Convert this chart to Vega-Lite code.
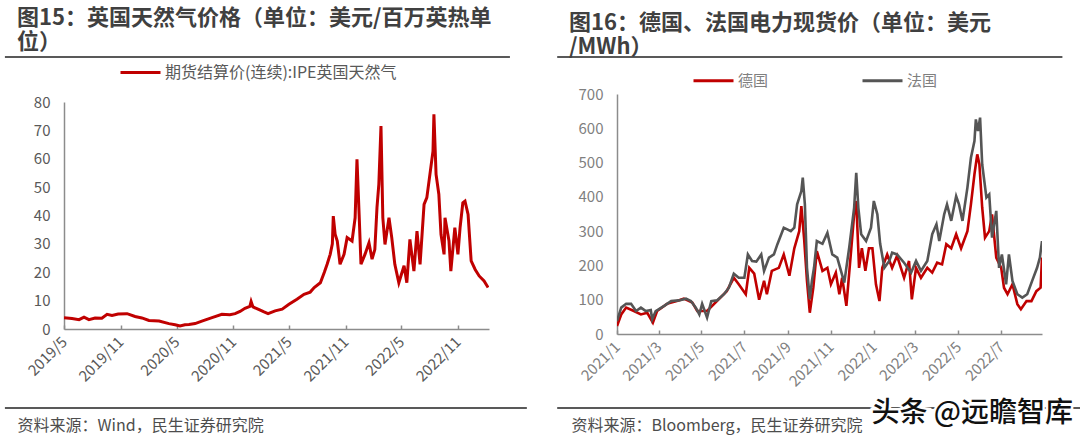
{
  "$schema": "https://vega.github.io/schema/vega-lite/v6.json",
  "background": "white",
  "padding": {"left": 3, "top": 7, "right": 0, "bottom": 2},
  "spacing": 28,
  "resolve": {"scale": {"color": "independent"}, "legend": {"color": "independent"}},
  "datasets": {
    "gas": [
      {"d": "2019-05-01", "v": 4.0}, {"d": "2019-05-27", "v": 3.7}, {"d": "2019-06-19", "v": 3.3}, {"d": "2019-07-05", "v": 4.2},
      {"d": "2019-07-21", "v": 3.3}, {"d": "2019-08-10", "v": 3.9}, {"d": "2019-09-01", "v": 3.8}, {"d": "2019-09-18", "v": 5.2},
      {"d": "2019-10-04", "v": 4.8}, {"d": "2019-10-24", "v": 5.3}, {"d": "2019-11-22", "v": 5.4}, {"d": "2019-12-18", "v": 4.4},
      {"d": "2020-01-09", "v": 3.9}, {"d": "2020-02-01", "v": 3.0}, {"d": "2020-03-05", "v": 2.8}, {"d": "2020-04-06", "v": 1.9},
      {"d": "2020-04-26", "v": 1.5}, {"d": "2020-05-12", "v": 1.1}, {"d": "2020-05-28", "v": 1.5}, {"d": "2020-06-10", "v": 1.6},
      {"d": "2020-06-30", "v": 1.9}, {"d": "2020-07-22", "v": 2.8}, {"d": "2020-08-24", "v": 4.0}, {"d": "2020-09-25", "v": 5.2},
      {"d": "2020-10-21", "v": 5.0}, {"d": "2020-11-07", "v": 5.4}, {"d": "2020-11-23", "v": 6.2}, {"d": "2020-12-09", "v": 7.3},
      {"d": "2020-12-25", "v": 8.0}, {"d": "2020-12-29", "v": 9.7}, {"d": "2021-01-04", "v": 7.8}, {"d": "2021-01-24", "v": 6.8},
      {"d": "2021-02-09", "v": 6.0}, {"d": "2021-02-22", "v": 5.4}, {"d": "2021-03-17", "v": 6.4}, {"d": "2021-04-09", "v": 7.0},
      {"d": "2021-05-01", "v": 8.7}, {"d": "2021-05-27", "v": 10.5}, {"d": "2021-06-19", "v": 12.2}, {"d": "2021-07-09", "v": 13.0},
      {"d": "2021-07-22", "v": 14.6}, {"d": "2021-08-11", "v": 16.3}, {"d": "2021-08-24", "v": 20.0}, {"d": "2021-09-02", "v": 22.8},
      {"d": "2021-09-12", "v": 26.3}, {"d": "2021-09-19", "v": 30.0}, {"d": "2021-09-22", "v": 39.8}, {"d": "2021-09-28", "v": 33.4},
      {"d": "2021-10-05", "v": 31.0}, {"d": "2021-10-14", "v": 22.8}, {"d": "2021-10-27", "v": 26.3}, {"d": "2021-11-06", "v": 32.2},
      {"d": "2021-11-22", "v": 31.0}, {"d": "2021-12-02", "v": 39.2}, {"d": "2021-12-08", "v": 59.8}, {"d": "2021-12-15", "v": 40.4},
      {"d": "2021-12-21", "v": 22.8}, {"d": "2022-01-03", "v": 26.3}, {"d": "2022-01-16", "v": 30.4}, {"d": "2022-01-26", "v": 24.6},
      {"d": "2022-02-04", "v": 28.0}, {"d": "2022-02-11", "v": 42.8}, {"d": "2022-02-17", "v": 51.0}, {"d": "2022-02-24", "v": 71.5},
      {"d": "2022-03-02", "v": 39.2}, {"d": "2022-03-09", "v": 29.8}, {"d": "2022-03-22", "v": 39.2}, {"d": "2022-03-31", "v": 32.2},
      {"d": "2022-04-10", "v": 22.8}, {"d": "2022-04-23", "v": 16.3}, {"d": "2022-05-10", "v": 22.3}, {"d": "2022-05-19", "v": 16.3},
      {"d": "2022-05-29", "v": 31.6}, {"d": "2022-06-11", "v": 20.4}, {"d": "2022-06-21", "v": 34.5}, {"d": "2022-07-01", "v": 22.8},
      {"d": "2022-07-14", "v": 43.9}, {"d": "2022-07-23", "v": 46.3}, {"d": "2022-08-02", "v": 54.5}, {"d": "2022-08-12", "v": 62.7},
      {"d": "2022-08-15", "v": 75.7}, {"d": "2022-08-22", "v": 54.5}, {"d": "2022-08-31", "v": 47.5}, {"d": "2022-09-07", "v": 33.4},
      {"d": "2022-09-17", "v": 26.3}, {"d": "2022-09-20", "v": 39.2}, {"d": "2022-10-03", "v": 31.0}, {"d": "2022-10-09", "v": 20.4},
      {"d": "2022-10-22", "v": 35.7}, {"d": "2022-11-01", "v": 26.3}, {"d": "2022-11-08", "v": 35.7}, {"d": "2022-11-17", "v": 44.5},
      {"d": "2022-11-24", "v": 45.1}, {"d": "2022-12-04", "v": 40.4}, {"d": "2022-12-14", "v": 24.0}, {"d": "2022-12-27", "v": 21.0},
      {"d": "2023-01-09", "v": 18.7}, {"d": "2023-01-25", "v": 16.9}, {"d": "2023-02-07", "v": 14.6}
    ],
    "power": [
      {"d": "2021-01-01", "c": "德国", "v": 23}, {"d": "2021-01-07", "c": "德国", "v": 57}, {"d": "2021-01-14", "c": "德国", "v": 77},
      {"d": "2021-01-25", "c": "德国", "v": 67}, {"d": "2021-02-04", "c": "德国", "v": 57}, {"d": "2021-02-13", "c": "德国", "v": 62},
      {"d": "2021-02-21", "c": "德国", "v": 33}, {"d": "2021-02-27", "c": "德国", "v": 67}, {"d": "2021-03-13", "c": "德国", "v": 88},
      {"d": "2021-03-27", "c": "德国", "v": 96}, {"d": "2021-04-06", "c": "德国", "v": 103}, {"d": "2021-04-18", "c": "德国", "v": 92},
      {"d": "2021-04-25", "c": "德国", "v": 67}, {"d": "2021-05-09", "c": "德国", "v": 67}, {"d": "2021-05-23", "c": "德国", "v": 96},
      {"d": "2021-06-06", "c": "德国", "v": 125}, {"d": "2021-06-16", "c": "德国", "v": 164}, {"d": "2021-06-23", "c": "德国", "v": 145},
      {"d": "2021-07-03", "c": "德国", "v": 116}, {"d": "2021-07-08", "c": "德国", "v": 193}, {"d": "2021-07-15", "c": "德国", "v": 176},
      {"d": "2021-07-22", "c": "德国", "v": 100}, {"d": "2021-07-29", "c": "德国", "v": 155}, {"d": "2021-08-02", "c": "德国", "v": 116},
      {"d": "2021-08-09", "c": "德国", "v": 184}, {"d": "2021-08-19", "c": "德国", "v": 193}, {"d": "2021-08-26", "c": "德国", "v": 232},
      {"d": "2021-09-03", "c": "德国", "v": 170}, {"d": "2021-09-10", "c": "德国", "v": 250}, {"d": "2021-09-17", "c": "德国", "v": 300},
      {"d": "2021-09-20", "c": "德国", "v": 373}, {"d": "2021-09-24", "c": "德国", "v": 276}, {"d": "2021-09-28", "c": "德国", "v": 155},
      {"d": "2021-10-02", "c": "德国", "v": 62}, {"d": "2021-10-07", "c": "德国", "v": 135}, {"d": "2021-10-12", "c": "德国", "v": 242},
      {"d": "2021-10-20", "c": "德国", "v": 184}, {"d": "2021-10-27", "c": "德国", "v": 193}, {"d": "2021-11-01", "c": "德国", "v": 145},
      {"d": "2021-11-08", "c": "德国", "v": 179}, {"d": "2021-11-13", "c": "德国", "v": 116}, {"d": "2021-11-17", "c": "德国", "v": 164},
      {"d": "2021-11-23", "c": "德国", "v": 82}, {"d": "2021-11-30", "c": "德国", "v": 250}, {"d": "2021-12-04", "c": "德国", "v": 349},
      {"d": "2021-12-07", "c": "德国", "v": 388}, {"d": "2021-12-11", "c": "德国", "v": 193}, {"d": "2021-12-15", "c": "德国", "v": 250},
      {"d": "2021-12-20", "c": "德国", "v": 184}, {"d": "2021-12-25", "c": "德国", "v": 250}, {"d": "2021-12-30", "c": "德国", "v": 250},
      {"d": "2022-01-04", "c": "德国", "v": 145}, {"d": "2022-01-09", "c": "德国", "v": 96}, {"d": "2022-01-13", "c": "德国", "v": 193},
      {"d": "2022-01-20", "c": "德国", "v": 232}, {"d": "2022-01-27", "c": "德国", "v": 193}, {"d": "2022-02-03", "c": "德国", "v": 228},
      {"d": "2022-02-13", "c": "德国", "v": 164}, {"d": "2022-02-20", "c": "德国", "v": 213}, {"d": "2022-02-24", "c": "德国", "v": 101},
      {"d": "2022-03-02", "c": "德国", "v": 193}, {"d": "2022-03-09", "c": "德国", "v": 164}, {"d": "2022-03-18", "c": "德国", "v": 193},
      {"d": "2022-03-25", "c": "德国", "v": 179}, {"d": "2022-04-01", "c": "德国", "v": 208}, {"d": "2022-04-08", "c": "德国", "v": 203},
      {"d": "2022-04-14", "c": "德国", "v": 262}, {"d": "2022-04-21", "c": "德国", "v": 250}, {"d": "2022-04-28", "c": "德国", "v": 291},
      {"d": "2022-05-05", "c": "德国", "v": 250}, {"d": "2022-05-14", "c": "德国", "v": 300}, {"d": "2022-05-19", "c": "德国", "v": 378},
      {"d": "2022-05-24", "c": "德国", "v": 466}, {"d": "2022-05-28", "c": "德国", "v": 524}, {"d": "2022-05-31", "c": "德国", "v": 495},
      {"d": "2022-06-04", "c": "德国", "v": 369}, {"d": "2022-06-08", "c": "德国", "v": 281}, {"d": "2022-06-14", "c": "德国", "v": 300},
      {"d": "2022-06-18", "c": "德国", "v": 349}, {"d": "2022-06-24", "c": "德国", "v": 223}, {"d": "2022-07-01", "c": "德国", "v": 193},
      {"d": "2022-07-05", "c": "德国", "v": 135}, {"d": "2022-07-10", "c": "德国", "v": 116}, {"d": "2022-07-17", "c": "德国", "v": 145},
      {"d": "2022-07-24", "c": "德国", "v": 87}, {"d": "2022-07-29", "c": "德国", "v": 72}, {"d": "2022-08-06", "c": "德国", "v": 96},
      {"d": "2022-08-13", "c": "德国", "v": 96}, {"d": "2022-08-20", "c": "德国", "v": 125}, {"d": "2022-08-26", "c": "德国", "v": 135},
      {"d": "2022-08-28", "c": "德国", "v": 223},
      {"d": "2021-01-01", "c": "法国", "v": 38}, {"d": "2021-01-07", "c": "法国", "v": 77}, {"d": "2021-01-14", "c": "法国", "v": 88},
      {"d": "2021-01-21", "c": "法国", "v": 88}, {"d": "2021-01-28", "c": "法国", "v": 67}, {"d": "2021-02-04", "c": "法国", "v": 77},
      {"d": "2021-02-11", "c": "法国", "v": 67}, {"d": "2021-02-18", "c": "法国", "v": 70}, {"d": "2021-02-20", "c": "法国", "v": 43},
      {"d": "2021-02-25", "c": "法国", "v": 67}, {"d": "2021-03-09", "c": "法国", "v": 82}, {"d": "2021-03-19", "c": "法国", "v": 96},
      {"d": "2021-03-30", "c": "法国", "v": 98}, {"d": "2021-04-09", "c": "法国", "v": 103}, {"d": "2021-04-16", "c": "法国", "v": 96},
      {"d": "2021-04-23", "c": "法国", "v": 77}, {"d": "2021-04-28", "c": "法国", "v": 57}, {"d": "2021-05-02", "c": "法国", "v": 88},
      {"d": "2021-05-09", "c": "法国", "v": 48}, {"d": "2021-05-15", "c": "法国", "v": 96}, {"d": "2021-05-23", "c": "法国", "v": 98},
      {"d": "2021-06-02", "c": "法国", "v": 116}, {"d": "2021-06-09", "c": "法国", "v": 135}, {"d": "2021-06-16", "c": "法国", "v": 176},
      {"d": "2021-06-23", "c": "法国", "v": 164}, {"d": "2021-07-01", "c": "法国", "v": 164}, {"d": "2021-07-06", "c": "法国", "v": 232},
      {"d": "2021-07-12", "c": "法国", "v": 213}, {"d": "2021-07-18", "c": "法国", "v": 211}, {"d": "2021-07-25", "c": "法国", "v": 232},
      {"d": "2021-07-29", "c": "法国", "v": 184}, {"d": "2021-08-05", "c": "法国", "v": 223}, {"d": "2021-08-12", "c": "法国", "v": 232},
      {"d": "2021-08-17", "c": "法国", "v": 262}, {"d": "2021-08-26", "c": "法国", "v": 310}, {"d": "2021-08-31", "c": "法国", "v": 305},
      {"d": "2021-09-05", "c": "法国", "v": 300}, {"d": "2021-09-10", "c": "法国", "v": 310}, {"d": "2021-09-14", "c": "法国", "v": 378},
      {"d": "2021-09-20", "c": "法国", "v": 417}, {"d": "2021-09-22", "c": "法国", "v": 456}, {"d": "2021-09-25", "c": "法国", "v": 378},
      {"d": "2021-09-28", "c": "法国", "v": 193}, {"d": "2021-10-02", "c": "法国", "v": 102}, {"d": "2021-10-05", "c": "法国", "v": 155},
      {"d": "2021-10-08", "c": "法国", "v": 193}, {"d": "2021-10-12", "c": "法国", "v": 271}, {"d": "2021-10-20", "c": "法国", "v": 263},
      {"d": "2021-10-27", "c": "法国", "v": 295}, {"d": "2021-11-03", "c": "法国", "v": 232}, {"d": "2021-11-10", "c": "法国", "v": 223},
      {"d": "2021-11-20", "c": "法国", "v": 150}, {"d": "2021-11-27", "c": "法国", "v": 252}, {"d": "2021-12-04", "c": "法国", "v": 368},
      {"d": "2021-12-07", "c": "法国", "v": 470}, {"d": "2021-12-10", "c": "法国", "v": 368}, {"d": "2021-12-14", "c": "法国", "v": 291},
      {"d": "2021-12-21", "c": "法国", "v": 271}, {"d": "2021-12-28", "c": "法国", "v": 310}, {"d": "2022-01-01", "c": "法国", "v": 388},
      {"d": "2022-01-06", "c": "法国", "v": 349}, {"d": "2022-01-10", "c": "法国", "v": 263}, {"d": "2022-01-16", "c": "法国", "v": 193},
      {"d": "2022-01-23", "c": "法国", "v": 213}, {"d": "2022-01-27", "c": "法国", "v": 237}, {"d": "2022-02-03", "c": "法国", "v": 232},
      {"d": "2022-02-13", "c": "法国", "v": 208}, {"d": "2022-02-23", "c": "法国", "v": 179}, {"d": "2022-03-02", "c": "法国", "v": 213},
      {"d": "2022-03-09", "c": "法国", "v": 184}, {"d": "2022-03-18", "c": "法国", "v": 213}, {"d": "2022-03-25", "c": "法国", "v": 291},
      {"d": "2022-03-31", "c": "法国", "v": 320}, {"d": "2022-04-04", "c": "法国", "v": 271}, {"d": "2022-04-11", "c": "法国", "v": 349},
      {"d": "2022-04-15", "c": "法国", "v": 378}, {"d": "2022-04-21", "c": "法国", "v": 330}, {"d": "2022-04-28", "c": "法国", "v": 402},
      {"d": "2022-05-02", "c": "法国", "v": 378}, {"d": "2022-05-07", "c": "法国", "v": 330}, {"d": "2022-05-14", "c": "法国", "v": 427},
      {"d": "2022-05-19", "c": "法国", "v": 514}, {"d": "2022-05-24", "c": "法国", "v": 563}, {"d": "2022-05-26", "c": "法国", "v": 626},
      {"d": "2022-05-29", "c": "法国", "v": 592}, {"d": "2022-06-01", "c": "法国", "v": 631}, {"d": "2022-06-04", "c": "法国", "v": 495},
      {"d": "2022-06-10", "c": "法国", "v": 398}, {"d": "2022-06-14", "c": "法国", "v": 407}, {"d": "2022-06-18", "c": "法国", "v": 281},
      {"d": "2022-06-24", "c": "法国", "v": 359}, {"d": "2022-06-28", "c": "法国", "v": 193}, {"d": "2022-07-02", "c": "法国", "v": 232},
      {"d": "2022-07-08", "c": "法国", "v": 145}, {"d": "2022-07-12", "c": "法国", "v": 232}, {"d": "2022-07-17", "c": "法国", "v": 155},
      {"d": "2022-07-24", "c": "法国", "v": 116}, {"d": "2022-07-31", "c": "法国", "v": 106}, {"d": "2022-08-07", "c": "法国", "v": 116},
      {"d": "2022-08-14", "c": "法国", "v": 155}, {"d": "2022-08-21", "c": "法国", "v": 193}, {"d": "2022-08-25", "c": "法国", "v": 223},
      {"d": "2022-08-28", "c": "法国", "v": 271}
    ]
  },
  "hconcat": [
    {
      "width": 425,
      "height": 235,
      "title": {
        "text": ["图15：英国天然气价格（单位：美元/百万英热单", "位）"],
        "dx": -47,
        "offset": -3
      },
      "layer": [
        {
          "data": {"name": "gas"},
          "mark": {"type": "line", "strokeWidth": 3, "clip": true},
          "encoding": {
            "x": {
              "field": "d", "type": "temporal",
              "scale": {"type": "utc", "domain": [{"year": 2019, "month": 5, "date": 1, "utc": true}, {"year": 2023, "month": 2, "date": 10, "utc": true}]},
              "axis": {
                "values": [
                  {"year": 2019, "month": 5, "date": 1, "utc": true}, {"year": 2019, "month": 11, "date": 1, "utc": true},
                  {"year": 2020, "month": 5, "date": 1, "utc": true}, {"year": 2020, "month": 11, "date": 1, "utc": true},
                  {"year": 2021, "month": 5, "date": 1, "utc": true}, {"year": 2021, "month": 11, "date": 1, "utc": true},
                  {"year": 2022, "month": 5, "date": 1, "utc": true}, {"year": 2022, "month": 11, "date": 1, "utc": true}
                ],
                "tickCount": 20,
                "format": "%Y/%-m",
                "labelColor": "#595959",
                "title": "资料来源：Wind，民生证券研究院",
                "titleX": -47,
                "titleY": 96
              }
            },
            "y": {
              "field": "v", "type": "quantitative",
              "scale": {"domain": [0, 80], "range": [235, 8]},
              "axis": {"values": [0, 10, 20, 30, 40, 50, 60, 70, 80], "tickCount": 20, "labelColor": "#595959", "labelOverlap": false}
            },
            "color": {
              "datum": "期货结算价(连续):IPE英国天然气",
              "scale": {"range": ["#C00000"]},
              "legend": {"orient": "none", "legendX": 55, "legendY": -43, "labelColor": "#595959", "labelFontSize": 16}
            }
          }
        },
        {
          "data": {"values": [{}]},
          "mark": {"type": "rule", "color": "#595959", "strokeWidth": 2.2, "clip": false},
          "encoding": {
            "x": {"datum": {"year": 2018, "month": 10, "date": 21, "utc": true}, "type": "temporal"},
            "x2": {"datum": {"year": 2023, "month": 4, "date": 19, "utc": true}},
            "y": {"datum": 95.86, "type": "quantitative"}
          }
        },
        {
          "data": {"values": [{}]},
          "mark": {"type": "rule", "color": "#595959", "strokeWidth": 2.2, "clip": false},
          "encoding": {
            "x": {"datum": {"year": 2018, "month": 10, "date": 21, "utc": true}, "type": "temporal"},
            "x2": {"datum": {"year": 2023, "month": 6, "date": 13, "utc": true}},
            "y": {"datum": -27.84, "type": "quantitative"}
          }
        }
      ]
    },
    {
      "width": 425,
      "height": 240,
      "title": {
        "text": ["图16：德国、法国电力现货价（单位：美元", "/MWh）"],
        "dx": -48,
        "offset": -3
      },
      "layer": [
        {
          "data": {"name": "power"},
          "mark": {"type": "line", "strokeWidth": 2.6, "clip": true},
          "encoding": {
            "x": {
              "field": "d", "type": "temporal",
              "scale": {"type": "utc", "domain": [{"year": 2021, "month": 1, "date": 1, "utc": true}, {"year": 2022, "month": 8, "date": 28, "utc": true}]},
              "axis": {
                "values": [
                  {"year": 2021, "month": 1, "date": 1, "utc": true}, {"year": 2021, "month": 3, "date": 1, "utc": true},
                  {"year": 2021, "month": 5, "date": 1, "utc": true}, {"year": 2021, "month": 7, "date": 1, "utc": true},
                  {"year": 2021, "month": 9, "date": 1, "utc": true}, {"year": 2021, "month": 11, "date": 1, "utc": true},
                  {"year": 2022, "month": 1, "date": 1, "utc": true}, {"year": 2022, "month": 3, "date": 1, "utc": true},
                  {"year": 2022, "month": 5, "date": 1, "utc": true}, {"year": 2022, "month": 7, "date": 1, "utc": true}
                ],
                "tickCount": 20,
                "format": "%Y/%-m",
                "labelColor": "#7f7f7f",
                "title": "资料来源：Bloomberg，民生证券研究院",
                "titleX": -46,
                "titleY": 91
              }
            },
            "y": {
              "field": "v", "type": "quantitative",
              "scale": {"domain": [0, 700]},
              "axis": {"values": [0, 100, 200, 300, 400, 500, 600, 700], "tickCount": 20, "labelColor": "#7f7f7f", "labelOverlap": false}
            },
            "color": {
              "field": "c", "type": "nominal",
              "scale": {"domain": ["德国", "法国"], "range": ["#C00000", "#555555"]},
              "legend": {"orient": "none", "direction": "horizontal", "legendX": 75, "legendY": -35, "columnPadding": 87, "labelColor": "#7f7f7f"}
            }
          }
        },
        {
          "data": {"values": [{}]},
          "mark": {"type": "rule", "color": "#595959", "strokeWidth": 2.2, "clip": false},
          "encoding": {
            "x": {"datum": {"year": 2020, "month": 10, "date": 8, "utc": true}, "type": "temporal"},
            "x2": {"datum": {"year": 2022, "month": 9, "date": 26, "utc": true}},
            "y": {"datum": 807.9, "type": "quantitative"}
          }
        },
        {
          "data": {"values": [{}]},
          "mark": {"type": "rule", "color": "#595959", "strokeWidth": 2.2, "clip": false},
          "encoding": {
            "x": {"datum": {"year": 2020, "month": 10, "date": 8, "utc": true}, "type": "temporal"},
            "x2": {"datum": {"year": 2022, "month": 10, "date": 23, "utc": true}},
            "y": {"datum": -215.8, "type": "quantitative"}
          }
        },
        {
          "data": {"values": [{}]},
          "mark": {"type": "text", "text": "头条 @远瞻智库", "font": "Noto Sans CJK SC", "fontSize": 28, "fontWeight": 500, "fill": "white", "stroke": "white", "strokeWidth": 5, "align": "center", "baseline": "middle", "clip": false},
          "encoding": {
            "x": {"datum": {"year": 2022, "month": 5, "date": 21, "utc": true}, "type": "temporal"},
            "y": {"datum": -233, "type": "quantitative"}
          }
        },
        {
          "data": {"values": [{}]},
          "mark": {"type": "text", "text": "头条 @远瞻智库", "font": "Noto Sans CJK SC", "fontSize": 28, "fontWeight": 500, "fill": "#111111", "align": "center", "baseline": "middle", "clip": false},
          "encoding": {
            "x": {"datum": {"year": 2022, "month": 5, "date": 21, "utc": true}, "type": "temporal"},
            "y": {"datum": -233, "type": "quantitative"}
          }
        }
      ]
    }
  ],
  "config": {
    "font": "Noto Sans CJK SC",
    "view": {"stroke": null},
    "title": {
      "anchor": "start",
      "frame": "group",
      "font": "Noto Sans CJK SC",
      "fontSize": 22,
      "fontWeight": "bold",
      "color": "#404040",
      "lineHeight": 24
    },
    "axis": {
      "grid": false,
      "domainColor": "#8c8c8c",
      "domainWidth": 1.5,
      "tickColor": "#8c8c8c",
      "tickWidth": 1.5,
      "labelFont": "Noto Sans CJK SC",
      "titleFont": "Noto Sans CJK SC"
    },
    "axisX": {
      "labelAngle": -45,
      "labelAlign": "right",
      "labelBaseline": "middle",
      "labelFontSize": 15,
      "labelPadding": 14,
      "tickSize": -4,
      "labelOverlap": false,
      "labelBound": false,
      "labelFlush": false,
      "titleAlign": "left",
      "titleBaseline": "middle",
      "titleAngle": 0,
      "titleFontSize": 16,
      "titleFontWeight": "normal",
      "titleColor": "#4d4d4d"
    },
    "axisY": {
      "ticks": false,
      "labelPadding": 14,
      "labelFontSize": 15,
      "labelOverlap": false,
      "title": null
    },
    "legend": {
      "title": null,
      "symbolType": "stroke",
      "symbolSize": 1600,
      "symbolStrokeWidth": 3,
      "labelFont": "Noto Sans CJK SC",
      "labelFontSize": 15,
      "labelLimit": 400,
      "labelOffset": 3,
      "padding": 0
    }
  }
}
